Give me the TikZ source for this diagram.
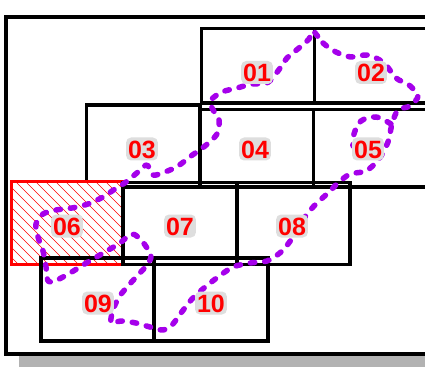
\documentclass[tikz,border=0pt]{standalone}
\usepackage{fontspec}
\setmainfont{Liberation Sans}
\definecolor{routepurple}{RGB}{165,0,235}
\definecolor{halogray}{RGB}{222,222,222}
\definecolor{shadowgray}{RGB}{178,178,178}
\tikzset{
  framebox/.style={draw=black, line width=4pt, fill=white},
  cellbox/.style={draw=black, line width=3.3pt},
  hatchbox/.style={draw=red, line width=3pt},
  hatchline/.style={draw=red, line width=0.6pt},
  celllabel/.style={font=\fontsize{25}{25}\selectfont\bfseries, text=red, fill=halogray, rounded corners=5pt, inner xsep=2pt, inner ysep=2.5pt, text height=18pt, text depth=0pt},
  route/.style={draw=routepurple, line width=5.5pt, line cap=round, line join=round, dash pattern=on 4.5pt off 10pt}
}

\begin{document}
\begin{tikzpicture}[x=1pt, y=-1pt]
  \useasboundingbox (0,0) rectangle (425,382);
  \clip (0,0) rectangle (425,382);

  % frame with its shadow
  \fill[shadowgray] (19,356) rectangle (440,367);
  \draw[framebox] (5.5,17.5) rectangle (445,353.5);

  % upper two rows
  \foreach \xa/\ya/\xb/\yb in {201.5/28.5/314.5/103, 314.5/28.5/440/103,
      86.5/105/200/187, 200/109.5/313.5/187, 313.5/109.5/440/187}
    \draw[cellbox] (\xa,\ya) rectangle (\xb,\yb);

  % blocked cell 06
  \begin{scope}
    \clip (11,181) rectangle (123,264);
    \fill[white] (11,181) rectangle (123,264);
    \foreach \i in {-85,-75,...,125}
      \draw[hatchline] (\i,181) -- ++(90,90);
  \end{scope}
  \draw[hatchbox] (11,181) rectangle (123,264);

  % lower two rows
  \foreach \xa/\ya/\xb/\yb in {123/182.5/237/264.5, 237/182.5/350/264.5,
      41/258/154/341, 154/258/268/341}
    \draw[cellbox] (\xa,\ya) rectangle (\xb,\yb);

  % the route
  \draw[route] plot[smooth cycle, tension=0.5] coordinates {
    (313,31) (323,43) (336,52) (351,57) (368,55) (384,63) (396,78) (409,85)
    (418,96) (410,106) (398,110) (392,124) (388,142) (379,159) (366,171)
    (350,174) (338,183) (328,193) (317,203) (307,214) (299,227) (291,240)
    (281,252) (267,261) (250,263) (233,267) (218,277) (204,288) (192,299)
    (181,313) (172,325) (163,330) (150,327) (136,323) (121,321) (111,323)
    (113,310) (119,297) (128,286) (138,275) (147,265) (151,256) (145,245)
    (138,237) (131,234) (120,243) (105,252) (88,262) (70,273) (55,281)
    (48,281) (46,267) (43,251) (38,237) (36,224) (43,214) (56,210) (72,208)
    (88,204) (103,197) (115,189) (126,182) (138,172) (147,165) (153,175)
    (165,172) (178,166) (191,156) (205,146) (217,134) (219,120) (212,108)
    (211,100) (222,92) (237,88) (252,84) (267,83) (278,71) (287,58)
    (299,48) (309,39)};
  \draw[route] plot[smooth, tension=0.6] coordinates {
    (391,124) (376,117) (361,121) (354,134) (353,146)};

  % cell numbers
  \foreach \n/\x/\y in {01/257/72.5, 02/371/72.5, 03/142/149, 04/255/149,
      05/368/149, 06/67/226, 07/180/226, 08/292/226, 09/98/303, 10/211/303}
    \node[celllabel] (l\n) at (\x,\y) {\n};
\end{tikzpicture}
\end{document}
